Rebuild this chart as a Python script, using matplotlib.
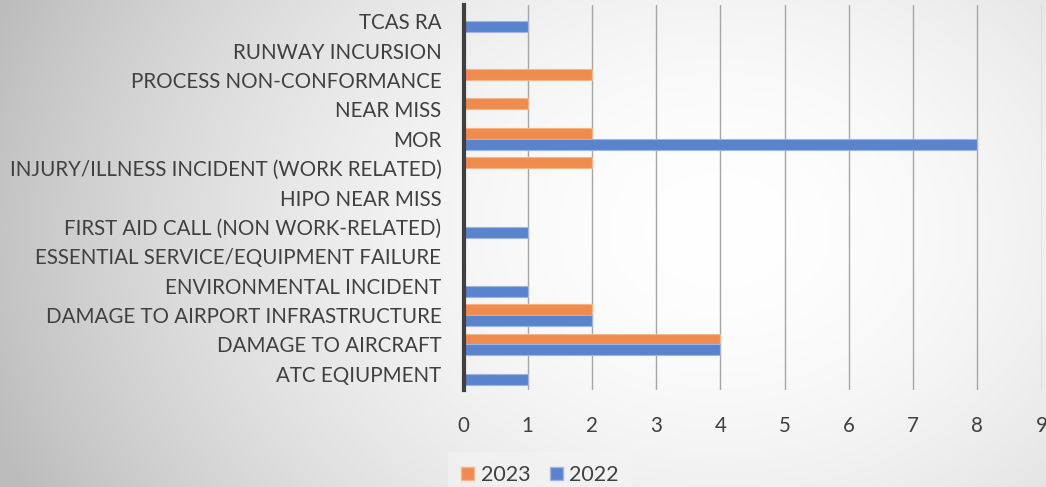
import numpy as np
import matplotlib.pyplot as plt
from matplotlib.patches import Patch

categories = [
    "ATC EQIUPMENT",
    "DAMAGE TO AIRCRAFT",
    "DAMAGE TO AIRPORT INFRASTRUCTURE",
    "ENVIRONMENTAL INCIDENT",
    "ESSENTIAL SERVICE/EQUIPMENT FAILURE",
    "FIRST AID CALL (NON WORK-RELATED)",
    "HIPO NEAR MISS",
    "INJURY/ILLNESS INCIDENT (WORK RELATED)",
    "MOR",
    "NEAR MISS",
    "PROCESS NON-CONFORMANCE",
    "RUNWAY INCURSION",
    "TCAS RA",
]
values_2023 = [0, 4, 2, 0, 0, 0, 0, 2, 2, 1, 2, 0, 0]
values_2022 = [1, 4, 2, 1, 0, 1, 0, 0, 8, 0, 0, 0, 1]
x_ticks = list(range(10))

plt.rcParams['font.family'] = ['Lato', 'DejaVu Sans']

W, H = 1046, 487
fig = plt.figure(figsize=(W / 100, H / 100), dpi=100)

# radial gradient background (white centre, grey edges)
bg = fig.add_axes([0, 0, 1, 1], zorder=0)
yy, xx = np.mgrid[0:H, 0:W]
d = np.sqrt(((xx - 720) / 640.0) ** 2 + ((yy - 230) / 500.0) ** 2)
shade = 1.0 - 0.26 * np.clip(d, 0, 1.2) ** 1.8 / 1.2 ** 1.8
bg.imshow(np.dstack([shade] * 3), aspect='auto', extent=[0, W, H, 0])
bg.axis('off')

ax = fig.add_axes([463.5 / W, 1 - 390 / H, (1041.5 - 463.5) / W, (390 - 5) / H], zorder=1)
ax.patch.set_alpha(0)

y = np.arange(len(categories))
h = 0.37
ax.barh(y + h / 2, values_2023, height=h, color='#EE8C4E', edgecolor='#F6B48A',
        linewidth=0.8, label='2023', zorder=3)
ax.barh(y - h / 2, values_2022, height=h, color='#5A83CF', edgecolor='#9DB5E2',
        linewidth=0.8, label='2022', zorder=3)

ax.set_xlim(0, 9)
ax.set_ylim(-0.55, len(categories) - 0.45)
ax.set_xticks(x_ticks)
ax.set_yticks(y)
ax.set_yticklabels(categories)
ax.tick_params(axis='both', length=0, labelsize=14.8, colors='#404040')
ax.tick_params(axis='y', pad=16)
ax.tick_params(axis='x', pad=19)
ax.grid(axis='x', color='#a6a6a6', linewidth=1, zorder=0)
for s in ['top', 'right', 'bottom']:
    ax.spines[s].set_visible(False)
ax.spines['left'].set_color('#404040')
ax.spines['left'].set_linewidth(3)
ax.spines['left'].set_zorder(4)

handles = [Patch(facecolor='#EE8C4E', edgecolor='#F6B48A', label='2023'),
           Patch(facecolor='#5A83CF', edgecolor='#9DB5E2', label='2022')]
leg = fig.legend(handles=handles, loc='center', bbox_to_anchor=(540 / W, 1 - 475 / H),
                 ncol=2, frameon=True, fontsize=15.5, handlelength=0.6, handleheight=0.6,
                 handletextpad=0.3, columnspacing=0.9, borderpad=0.3)
leg.get_frame().set_facecolor('#f4f4f4')
leg.get_frame().set_edgecolor('none')
leg.get_frame().set_alpha(0.6)
leg.get_frame().set_boxstyle('square', pad=0.3)
for t in leg.get_texts():
    t.set_color('#404040')

fig.savefig('out.png', dpi=100)
